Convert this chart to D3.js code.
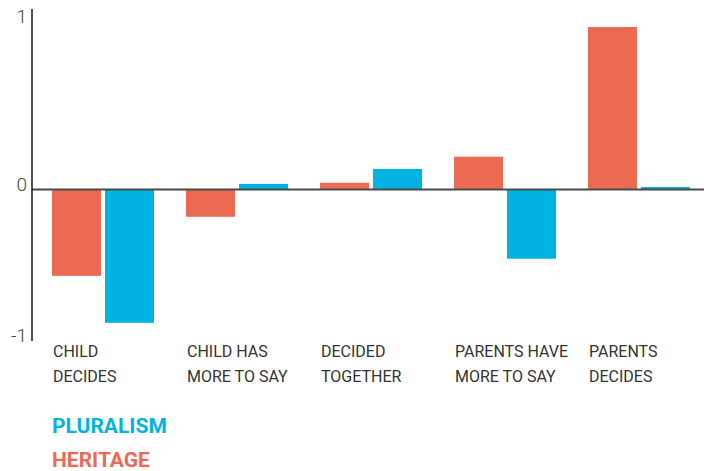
<!DOCTYPE html>
<html>
<head>
<meta charset="utf-8">
<script src="https://cdn.jsdelivr.net/npm/d3@7"></script>
<style>
  html, body { margin: 0; padding: 0; background: #fff; }
  svg { display: block; font-family: Roboto, "Noto Sans", sans-serif; }
</style>
</head>
<body>
<svg id="chart" width="712" height="471"></svg>
<script>
// Decision-making categories (two-line labels)
const categories = ["Child decides", "Child has more to say", "Decided together", "Parents have more to say", "Parents decides"];
const categoryLines = [
  ["CHILD", "DECIDES"],
  ["CHILD HAS", "MORE TO SAY"],
  ["DECIDED", "TOGETHER"],
  ["PARENTS HAVE", "MORE TO SAY"],
  ["PARENTS", "DECIDES"]
];
const seriesNames = ["HERITAGE", "PLURALISM"];
const heritage = [-0.57, -0.18, 0.04, 0.195, 0.967];
const pluralism = [-0.88, 0.033, 0.122, -0.457, 0.015];
const yTicks = [1, 0, -1];
const legendOrder = ["PLURALISM", "HERITAGE"];

const colors = { HERITAGE: "#EC6A52", PLURALISM: "#00B3E3" };

const svg = d3.select("#chart");

// Scales
const x0 = d3.scaleBand().domain(categories).range([33, 703]);
const x1 = d3.scaleBand().domain(seriesNames).range([19, 121]).paddingInner(0.0755);
const y = d3.scaleLinear().domain([-1, 0, 1]).range([341, 189.5, 21.5]);

const rows = categories.map((c, i) => ({ cat: c, HERITAGE: heritage[i], PLURALISM: pluralism[i] }));

// Bars
const groups = svg.append("g").selectAll("g")
  .data(rows).join("g")
  .attr("transform", d => `translate(${x0(d.cat)},0)`);

groups.selectAll("rect")
  .data(d => seriesNames.map(s => ({ s, v: d[s] })))
  .join("rect")
  .attr("x", d => x1(d.s))
  .attr("width", x1.bandwidth())
  .attr("y", d => y(Math.max(0, d.v)))
  .attr("height", d => Math.abs(y(d.v) - y(0)))
  .attr("fill", d => colors[d.s]);

// Zero line
svg.append("line")
  .attr("x1", 32).attr("x2", 704)
  .attr("y1", y(0)).attr("y2", y(0))
  .attr("stroke", "#4a4a4a").attr("stroke-width", 1.8);

// Y axis
const yAxis = d3.axisLeft(y).tickValues(yTicks).tickSize(0).tickPadding(5).tickFormat(d3.format("d"));
const ya = svg.append("g").attr("transform", "translate(32,0)").call(yAxis);
ya.select(".domain").remove();
ya.append("line")
  .attr("x1", 0).attr("x2", 0)
  .attr("y1", 9).attr("y2", 341)
  .attr("stroke", "#222").attr("stroke-width", 1.6);
ya.selectAll(".tick text")
  .attr("font-family", "Roboto, sans-serif")
  .attr("font-weight", 300)
  .attr("font-size", 19)
  .attr("fill", "#444")
  .attr("dy", "0.05em")
  .text(d => d < 0 ? "-" + Math.abs(d) : d);

// Category labels
const labels = svg.append("g").selectAll("text")
  .data(rows).join("text")
  .attr("x", d => x0(d.cat) + x1(seriesNames[0]) + 1)
  .attr("y", 357)
  .attr("font-size", 16)
  .attr("fill", "#333");
labels.selectAll("tspan")
  .data((d, i) => categoryLines[i])
  .join("tspan")
  .attr("x", function() { return d3.select(this.parentNode).attr("x"); })
  .attr("dy", (d, i) => i === 0 ? 0 : 24.5)
  .text(d => d);

// Legend
svg.append("g").selectAll("text")
  .data(legendOrder).join("text")
  .attr("x", 52)
  .attr("y", (d, i) => 432.5 + i * 34.5)
  .attr("font-size", 21)
  .attr("font-weight", 700)
  .attr("fill", d => colors[d])
  .text(d => d);
</script>
</body>
</html>
